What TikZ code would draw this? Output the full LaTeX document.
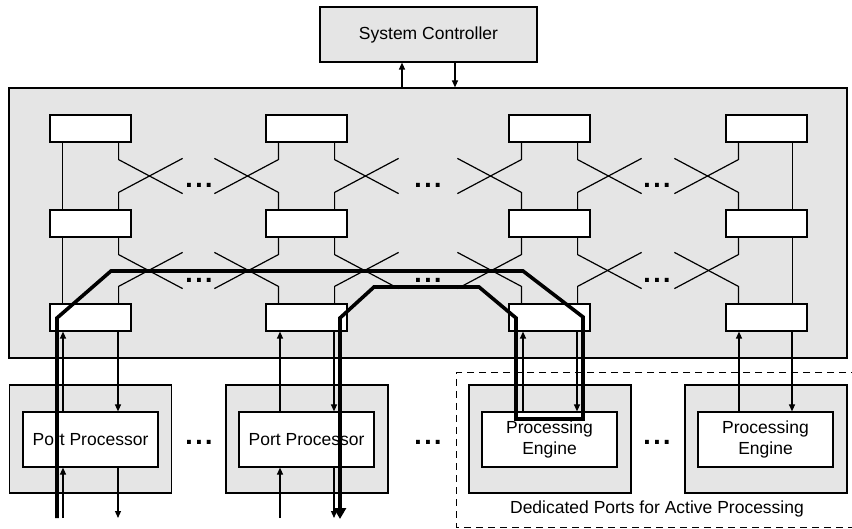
\documentclass[tikz,border=0pt]{standalone}
\usepackage{fontspec}
\setmainfont{Liberation Sans}
\newfontfamily\dotfont{DejaVu Sans}
\usetikzlibrary{arrows.meta}
\definecolor{panel}{gray}{0.9}
\begin{document}
\begin{tikzpicture}[x=1pt,y=-1pt,line width=1.2pt,
  lbl/.style={font=\fontsize{17.5}{21}\selectfont},
  sw/.style={draw,fill=white,minimum width=81pt,minimum height=27pt,inner sep=0pt},
  outerbox/.style={draw,fill=panel,minimum width=162pt,minimum height=108pt,inner sep=0pt},
  innerbox/.style={draw,fill=white,minimum width=135pt,minimum height=55pt,inner sep=0pt,align=center,lbl},
  ell/.style={font=\dotfont\bfseries\fontsize{22}{22}\selectfont,anchor=base,inner sep=0pt},
  arr/.style={-{Triangle[length=7pt,width=6pt]}},
  route/.style={line width=3.6pt,line join=miter}]
\useasboundingbox (0,0) rectangle (852,529);
\clip (0,0) rectangle (852,529);

% system controller and switch fabric
\node[draw,fill=panel,minimum width=217pt,minimum height=55pt,inner sep=0pt,lbl] (sc) at (428.5,34.5) {System Controller};
\node[draw,fill=panel,minimum width=838pt,minimum height=270pt,inner sep=0pt] (fab) at (428,223) {};
\draw[arr] (fab.north -| 402,0) -- (sc.south -| 402,0);
\draw[arr] (sc.south -| 455,0) -- (fab.north -| 455,0);

% switch elements: column c, row r
\foreach \c/\x in {1/90.5,2/306.5,3/549.5,4/766.5}
  \foreach \r/\y in {1/128.5,2/223.5,3/317.5}
    \node[sw] (s\c\r) at (\x,\y) {};

% straight links on the outer columns
\foreach \a/\b in {1/2,2/3}{
  \draw ([xshift=13pt]s1\a.south west) -- ([xshift=13pt]s1\b.north west);
  \draw ([xshift=-15pt]s4\a.south east) -- ([xshift=-15pt]s4\b.north east);
}

% crossing links between rows
\foreach \a/\b in {1/2,2/3}{
  \foreach \c in {1,2,3}{
    \draw ([xshift=-13pt]s\c\a.south east) -- ++(0,17) -- ++(64,34);
    \draw ([xshift=-13pt]s\c\b.north east) -- ++(0,-17) -- ++(64,-34);
  }
  \foreach \c in {2,3,4}{
    \draw ([xshift=13pt]s\c\a.south west) -- ++(0,17) -- ++(-64,34);
    \draw ([xshift=13pt]s\c\b.north west) -- ++(0,-17) -- ++(-64,-34);
  }
}
\foreach \x in {199,428,657}{
  \node[ell] at (\x,187.5) {.\kern1.5pt.\kern1.5pt.};
  \node[ell] at (\x,282.5) {.\kern1.5pt.\kern1.5pt.};
  \node[ell] at (\x,444.5) {.\kern1.5pt.\kern1.5pt.};
}

% dedicated ports frame
\draw[dashed,line width=1pt,dash pattern=on 7pt off 5pt] (870,373) -- (456,373) -- (456,527) -- (870,527);
\node[lbl] (ded) at (657,509) {Dedicated Ports for Active Processing};

% ports
\node[outerbox] (o1) at (90.5,439) {};
\node[outerbox] (o2) at (307,439) {};
\node[outerbox] (o3) at (550,439) {};
\node[outerbox] (o4) at (766,439) {};
\node[innerbox] (pp1) at (90.5,439.5) {Port Processor};
\node[innerbox] (pp2) at (306.5,439.5) {Port Processor};
\node[innerbox] (pe1) at (549.5,439.5) {Processing\\Engine};
\node[innerbox] (pe2) at (765.5,439.5) {Processing\\Engine};

% external links
\coordinate (in1) at (63,518);
\coordinate (out1) at (118,518);
\coordinate (in2) at (280,518);
\coordinate (out2) at (334,518);
\draw[arr] (in1) -- (in1 |- pp1.south);
\draw[arr] (pp1.south -| out1) -- (out1);
\draw[arr] (in2) -- (in2 |- pp2.south);
\draw[arr] (pp2.south -| out2) -- (out2);

% links between ports and switch elements
\draw[arr] (pp1.north -| in1) -- (s13.south -| in1);
\draw[arr] (s13.south -| out1) -- (pp1.north -| out1);
\draw[arr] (pp2.north -| in2) -- (s23.south -| in2);
\draw[arr] (s23.south -| out2) -- (pp2.north -| out2);
\draw[arr] (pe1.north -| 523,0) -- (s33.south -| 523,0);
\draw[arr] (s33.south -| 577,0) -- (pe1.north -| 577,0);
\draw[arr] (pe2.north -| 739,0) -- (s43.south -| 739,0);
\draw[arr] (s43.south -| 792,0) -- (pe2.north -| 792,0);

% highlighted route through the fabric
\coordinate (r0) at (57,518);
\coordinate (r1) at (57,318);
\coordinate (r2) at (111,271);
\coordinate (r3) at (523,271);
\coordinate (r4) at (583,317);
\coordinate (r5) at (583,419);
\coordinate (r6) at (516,419);
\coordinate (r7) at (516,318);
\coordinate (r8) at (479,287);
\coordinate (r9) at (374,287);
\coordinate (r10) at (340,318);
\coordinate (r11) at (340,519);
\draw[route,-{Triangle[length=11pt,width=12pt]}] (r0) -- (r1) -- (r2) -- (r3) -- (r4) -- (r5) -- (r6) -- (r7) -- (r8) -- (r9) -- (r10) -- (r11);
\end{tikzpicture}
\end{document}
